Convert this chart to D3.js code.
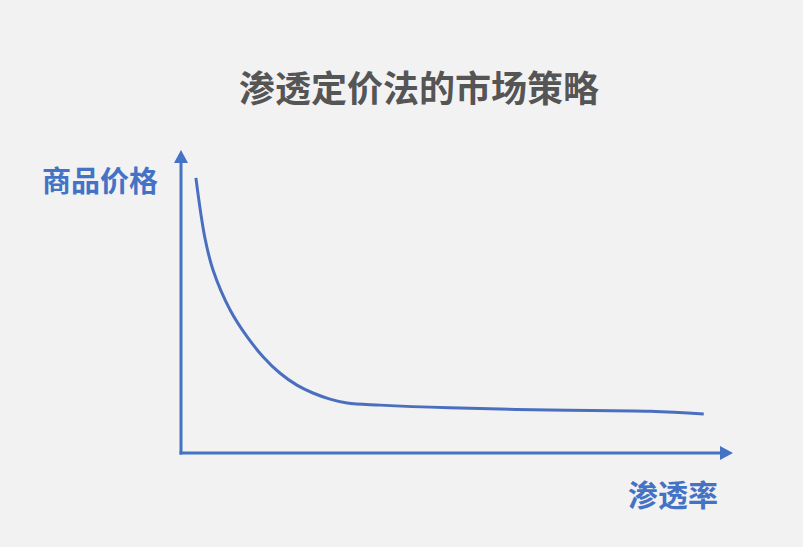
<!DOCTYPE html>
<html><head><meta charset="utf-8">
<script src="https://cdn.jsdelivr.net/npm/d3@7/dist/d3.min.js"></script>
<style>html,body{margin:0;padding:0;background:#f2f2f3;}svg{display:block;}</style>
</head><body>
<script>
const title = "渗透定价法的市场策略";
const yLabel = "商品价格";
const xLabel = "渗透率";
const penetration = [2.7, 4.3, 5.8, 8.9, 12.0, 14.9, 17.9, 21.0, 23.9, 27.0, 30.1, 36.1, 48.7, 66.8, 85.0, 94.7];
const price =       [90.8, 71.3, 60.4, 47.2, 38.3, 31.7, 26.4, 22.4, 19.8, 17.8, 16.5, 15.8, 14.9, 14.2, 13.8, 12.9];

const W = 803, H = 547;
const blue = "#4472c4";
const font = "'Noto Sans CJK SC', sans-serif";
const svg = d3.select("body").append("svg").attr("width", W).attr("height", H);
svg.append("rect").attr("width", W).attr("height", H).attr("fill", "#f2f2f3");

const x = d3.scaleLinear().domain([0, 100]).range([181, 733]);
const y = d3.scaleLinear().domain([0, 100]).range([453, 150]);

svg.append("text").attr("x", 419).attr("y", 86).attr("text-anchor", "middle")
  .attr("dominant-baseline", "central").attr("font-family", font).attr("font-weight", 700)
  .attr("font-size", 36).attr("fill", "#555555").text(title);

// axes
const ax = svg.append("g").attr("stroke", blue).attr("stroke-width", 3).attr("fill", "none");
ax.append("line").attr("x1", x(0)).attr("y1", y(0)+1.5).attr("x2", x(0)).attr("y2", y(100)+10);
ax.append("line").attr("x1", x(0)-1.5).attr("y1", y(0)).attr("x2", x(100)-10).attr("y2", y(0));
svg.append("path").attr("fill", blue)
  .attr("d", `M${x(0)},${y(100)} L${x(0)-7},${y(100)+13} L${x(0)+7},${y(100)+13} Z`);
svg.append("path").attr("fill", blue)
  .attr("d", `M${x(100)},${y(0)} L${x(100)-13},${y(0)-7} L${x(100)-13},${y(0)+7} Z`);

const pts = penetration.map((v, i) => [v, price[i]]);
svg.append("path").datum(pts).attr("fill", "none").attr("stroke", "#4a6fbf")
  .attr("stroke-width", 3).attr("stroke-linecap", "butt")
  .attr("d", d3.line().x(d => x(d[0])).y(d => y(d[1])).curve(d3.curveCatmullRom.alpha(0.5)));

svg.append("text").attr("x", 100).attr("y", 179).attr("text-anchor", "middle")
  .attr("dominant-baseline", "central").attr("font-family", font).attr("font-weight", 700)
  .attr("font-size", 29).attr("fill", blue).text(yLabel);
svg.append("text").attr("x", 673).attr("y", 493).attr("text-anchor", "middle")
  .attr("dominant-baseline", "central").attr("font-family", font).attr("font-weight", 700)
  .attr("font-size", 30).attr("fill", blue).text(xLabel);
</script>
</body></html>
